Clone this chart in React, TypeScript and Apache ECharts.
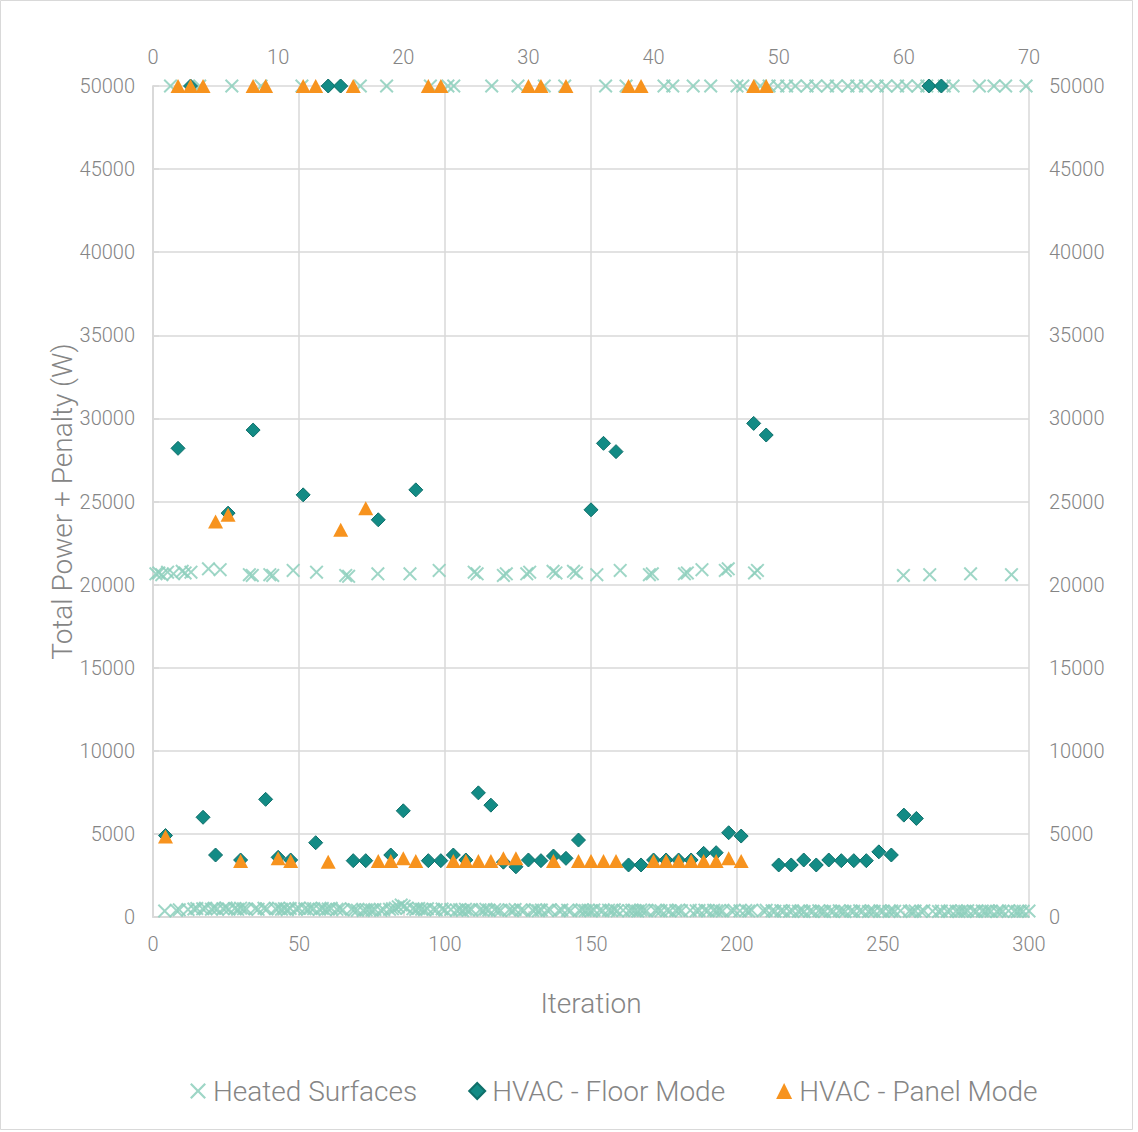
import React, { useEffect, useRef } from "react";
import * as echarts from "echarts";

// Heated Surfaces: one value per iteration (1..300), bottom axis
const heatedSurfaces = [
  20650, 20700, 20600, 360, 20750, 50000, 20650, 400, 430, 20800,
  20700, 450, 20750, 480, 510, 50000, 490, 530, 20950, 470,
  520, 480, 20900, 500, 540, 470, 50000, 510, 460, 530,
  490, 480, 20600, 20550, 500, 460, 50000, 520, 480, 20600,
  20550, 490, 530, 470, 500, 440, 510, 20850, 480, 520,
  50000, 490, 460, 530, 500, 20750, 470, 510, 440, 480,
  520, 50000, 460, 490, 430, 20550, 20500, 470, 440, 410,
  50000, 390, 430, 460, 420, 450, 20650, 400, 440, 50000,
  460, 490, 530, 610, 720, 650, 530, 20650, 490, 450,
  510, 470, 430, 490, 50000, 460, 440, 20850, 480, 420,
  50000, 450, 50000, 410, 440, 390, 460, 420, 450, 20750,
  20650, 430, 400, 460, 420, 50000, 440, 410, 390, 20550,
  20650, 430, 400, 450, 50000, 420, 390, 20650, 20750, 410,
  440, 380, 420, 50000, 400, 430, 20800, 20700, 390, 420,
  50000, 410, 380, 20800, 20700, 400, 430, 390, 410, 370,
  420, 20600, 400, 380, 50000, 410, 390, 430, 370, 20850,
  400, 50000, 380, 410, 390, 360, 420, 400, 370, 20600,
  20650, 390, 410, 380, 50000, 400, 370, 50000, 390, 410,
  380, 20650, 20700, 400, 50000, 370, 390, 20900, 410, 380,
  50000, 400, 370, 390, 360, 20850, 20950, 380, 400, 50000,
  370, 50000, 390, 360, 410, 20700, 20850, 50000, 380, 400,
  50000, 370, 350, 50000, 380, 360, 50000, 340, 370, 50000,
  350, 380, 330, 50000, 360, 340, 50000, 370, 350, 330,
  50000, 360, 340, 50000, 370, 350, 330, 50000, 360, 340,
  50000, 370, 350, 50000, 330, 360, 340, 50000, 370, 350,
  50000, 330, 360, 340, 50000, 370, 20550, 50000, 350, 330,
  360, 50000, 340, 370, 50000, 20600, 350, 50000, 330, 360,
  50000, 340, 370, 50000, 350, 330, 360, 340, 370, 20650,
  350, 330, 50000, 360, 340, 370, 350, 50000, 330, 360,
  340, 50000, 370, 20600, 350, 330, 360, 340, 50000, 360,
];

// HVAC - Floor Mode: iterations 1..63, top axis
const floorMode = [
  4900, 28200, 50000, 6000, 3730, 24300, 3430, 29300, 7080, 3590,
  3430, 25400, 4470, 50000, 50000, 3390, 3390, 23900, 3730, 6390,
  25700, 3390, 3390, 3730, 3430, 7470, 6730, 3300, 3020, 3430,
  3390, 3670, 3530, 4630, 24500, 28500, 28000, 3130, 3130, 3430,
  3430, 3430, 3430, 3830, 3870, 5070, 4870, 29700, 29000, 3130,
  3130, 3430, 3130, 3430, 3390, 3390, 3390, 3920, 3730, 6130,
  5930, 50000, 50000,
];

// HVAC - Panel Mode: iterations 1..49, top axis
const panelMode = [
  4850, 50000, 50000, 50000, 23800, 24200, 3370, 50000, 50000, 3530,
  3370, 50000, 50000, 3330, 23300, 50000, 24600, 3370, 3370, 3530,
  3370, 50000, 50000, 3370, 3370, 3370, 3370, 3530, 3530, 50000,
  50000, 3370, 50000, 3370, 3370, 3370, 3370, 50000, 50000, 3370,
  3370, 3370, 3370, 3370, 3370, 3530, 3370, 50000, 50000,
];

const seriesNames = ["Heated Surfaces", "HVAC - Floor Mode", "HVAC - Panel Mode"];
const xTitle = "Iteration";
const yTitle = "Total Power + Penalty (W)";

const X_PATH =
  "path://M1,0 L5,4 L9,0 L10,1 L6,5 L10,9 L9,10 L5,6 L1,10 L0,9 L4,5 L0,1 Z";

export default function App() {
  const ref = useRef<HTMLDivElement>(null);
  useEffect(() => {
    const chart = echarts.init(ref.current!, null, { renderer: "svg" });
    const font = "Roboto";
    const grey = "#858585";
    const gridColor = "#d9d9d9";
    const toPoints = (arr: number[]) => arr.map((v, i) => [i + 1, v]);
    const lbl = { color: grey, fontSize: 20, fontFamily: font, fontWeight: 300 };
    const nameStyle = { color: grey, fontSize: 28, fontFamily: font, fontWeight: 300 };
    const line = { show: true, lineStyle: { color: gridColor, width: 1.5 } };
    chart.setOption({
      animation: false,
      textStyle: { fontFamily: font },
      grid: { left: 153, right: 109, top: 86, bottom: 215 },
      graphic: [
        {
          type: "rect",
          silent: true,
          shape: { x: 0.5, y: 0.5, width: 1132, height: 1129 },
          style: { fill: "none", stroke: gridColor, lineWidth: 1 },
        },
      ],
      xAxis: [
        {
          type: "value",
          position: "bottom",
          min: 0,
          max: 300,
          interval: 50,
          name: xTitle,
          nameLocation: "middle",
          nameGap: 72,
          nameMoveOverlap: false,
          nameTextStyle: nameStyle,
          axisLine: line,
          axisTick: { show: false },
          axisLabel: { ...lbl, margin: 17 },
          splitLine: line,
        },
        {
          type: "value",
          position: "top",
          min: 0,
          max: 70,
          interval: 10,
          axisLine: line,
          axisTick: { show: true, length: 6, lineStyle: { color: gridColor, width: 1.5 } },
          axisLabel: { ...lbl, margin: 19 },
          splitLine: { show: false },
        },
      ],
      yAxis: [
        {
          type: "value",
          position: "left",
          min: 0,
          max: 50000,
          interval: 5000,
          name: yTitle,
          nameLocation: "middle",
          nameGap: 77,
          nameMoveOverlap: false,
          nameTextStyle: nameStyle,
          axisLine: line,
          axisTick: { show: false },
          axisLabel: { ...lbl, margin: 18, formatter: (v: number) => String(v) },
          splitLine: line,
        },
        {
          type: "value",
          position: "right",
          min: 0,
          max: 50000,
          interval: 5000,
          axisLine: line,
          axisTick: { show: true, length: 6, lineStyle: { color: gridColor, width: 1.5 } },
          axisLabel: { ...lbl, margin: 20, formatter: (v: number) => String(v) },
          splitLine: { show: false },
        },
      ],
      legend: {
        left: 185,
        top: 1072,
        itemGap: 51,
        itemWidth: 16,
        itemHeight: 16,
        textStyle: {
          color: grey,
          fontSize: 28,
          fontFamily: font,
          fontWeight: 300,
          padding: [0, 0, 0, 2],
        },
        data: seriesNames,
      },
      series: [
        {
          name: seriesNames[0],
          type: "scatter",
          xAxisIndex: 0,
          yAxisIndex: 0,
          symbol: X_PATH,
          symbolSize: 14,
          itemStyle: { color: "#8dcfbc", opacity: 0.85 },
          data: toPoints(heatedSurfaces),
        },
        {
          name: seriesNames[1],
          type: "scatter",
          xAxisIndex: 1,
          yAxisIndex: 1,
          symbol: "diamond",
          symbolSize: 14,
          itemStyle: { color: "#138b85", borderColor: "#0e6f6a", borderWidth: 1, opacity: 1 },
          data: toPoints(floorMode),
        },
        {
          name: seriesNames[2],
          type: "scatter",
          xAxisIndex: 1,
          yAxisIndex: 1,
          symbol: "triangle",
          symbolSize: [15, 14],
          itemStyle: { color: "#f7931e", opacity: 1 },
          data: toPoints(panelMode),
        },
      ],
    });
    return () => chart.dispose();
  }, []);
  return (
    <div style={{ position: "absolute", left: 0, top: 0, width: 1138, height: 1132 }}>
      <div ref={ref} style={{ width: "100%", height: "100%" }} />
    </div>
  );
}
